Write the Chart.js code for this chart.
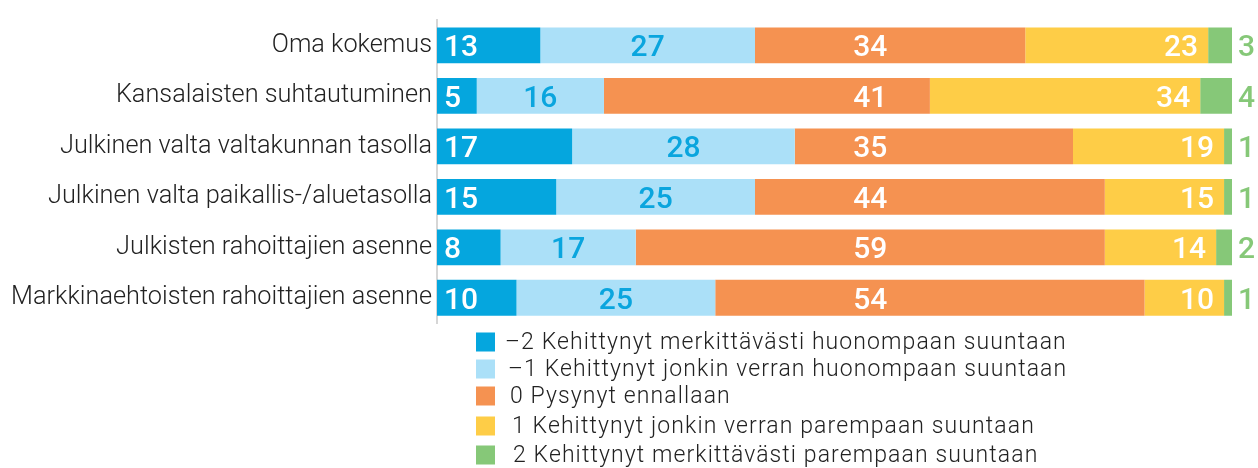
<!DOCTYPE html>
<html>
<head>
<meta charset="utf-8">
<script src="https://cdn.jsdelivr.net/npm/chart.js@4"></script>
<style>
  html, body { margin: 0; padding: 0; background: #fff; }
  #wrap { width: 1258px; height: 468px; }
</style>
</head>
<body>
<div id="wrap"><canvas id="chart" width="1258" height="468"></canvas></div>
<script>
const categories = [
  'Oma kokemus',
  'Kansalaisten suhtautuminen',
  'Julkinen valta valtakunnan tasolla',
  'Julkinen valta paikallis-/aluetasolla',
  'Julkisten rahoittajien asenne',
  'Markkinaehtoisten rahoittajien asenne'
];
const seriesNames = [
  '\u20132 Kehittynyt merkittävästi huonompaan suuntaan',
  '\u20131 Kehittynyt jonkin verran huonompaan suuntaan',
  '0 Pysynyt ennallaan',
  '1 Kehittynyt jonkin verran parempaan suuntaan',
  '2 Kehittynyt merkittävästi parempaan suuntaan'
];
const muchWorse = [13, 5, 17, 15, 8, 10];
const worse = [27, 16, 28, 25, 17, 25];
const same = [34, 41, 35, 44, 59, 54];
const better = [23, 34, 19, 15, 14, 10];
const muchBetter = [3, 4, 1, 1, 2, 1];

const colors = ['#05a6de', '#abe0f8', '#f59251', '#fecd47', '#86c878'];
const labelColors = ['#ffffff', '#0aa5de', '#ffffff', '#ffffff', '#86c878'];

const numFont = '500 30px Roboto';

// draws value labels on the bars
const valueLabels = {
  id: 'valueLabels',
  afterDatasetsDraw(chart) {
    const ctx = chart.ctx;
    const xScale = chart.scales.x;
    ctx.save();
    ctx.font = numFont;
    ctx.textBaseline = 'alphabetic';
    chart.data.datasets.forEach((ds, di) => {
      const meta = chart.getDatasetMeta(di);
      meta.data.forEach((bar, i) => {
        const txt = String(ds.data[i]);
        const y = bar.y + 11;
        const left = Math.min(bar.base, bar.x);
        const right = Math.max(bar.base, bar.x);
        ctx.fillStyle = labelColors[di];
        if (di == 0) {
          ctx.textAlign = 'left';
          ctx.fillText(txt, left + 7, y);
        } else if (di == 1) {
          ctx.textAlign = 'center';
          ctx.fillText(txt, (left + right) / 2, y);
        } else if (di == 2) {
          ctx.textAlign = 'center';
          ctx.fillText(txt, xScale.getPixelForValue(54.5), y);
        } else if (di == 3) {
          ctx.textAlign = 'right';
          ctx.fillText(txt, right - 10, y);
        } else {
          ctx.textAlign = 'left';
          ctx.fillText(txt, right + 6, y);
        }
      });
    });
    ctx.restore();
  }
};

// one-item-per-row legend under the bars
const listLegend = {
  id: 'listLegend',
  afterDraw(chart) {
    const ctx = chart.ctx;
    const rowsY = [342, 369, 396, 426, 455];
    const textX = [505, 508, 510, 512, 513];
    ctx.save();
    ctx.font = '300 23px Roboto';
    ctx.letterSpacing = '1.1px';
    ctx.textBaseline = 'middle';
    ctx.textAlign = 'left';
    chart.data.datasets.forEach((ds, i) => {
      ctx.fillStyle = ds.backgroundColor;
      ctx.fillRect(476, rowsY[i] - 9.5, 19, 19);
      ctx.fillStyle = '#222';
      ctx.fillText(ds.label, textX[i], rowsY[i] + 1);
    });
    ctx.restore();
  }
};

const seriesData = [muchWorse, worse, same, better, muchBetter];

const config = {
  type: 'bar',
  data: {
    labels: categories,
    datasets: seriesData.map((d, i) => ({
      label: seriesNames[i],
      data: d,
      backgroundColor: colors[i],
      borderWidth: 0,
      categoryPercentage: 0.71,
      barPercentage: 1
    }))
  },
  options: {
    indexAxis: 'y',
    responsive: false,
    animation: false,
    layout: {
      padding: { top: 11, right: 26, bottom: 145, left: 0 }
    },
    plugins: {
      legend: { display: false },
      tooltip: { enabled: false }
    },
    scales: {
      x: {
        stacked: true,
        min: 0,
        max: 100,
        display: false
      },
      y: {
        stacked: true,
        grid: { display: false, drawTicks: false },
        border: { display: true, color: '#d6d6d6', width: 2 },
        ticks: {
          color: '#222',
          font: { family: 'Roboto', size: 25.3, weight: 300 },
          padding: 5
        },
        afterFit: (scale) => { scale.width = 437; }
      }
    }
  },
  plugins: [valueLabels, listLegend]
};

new Chart(document.getElementById('chart'), config);
</script>
</body>
</html>
